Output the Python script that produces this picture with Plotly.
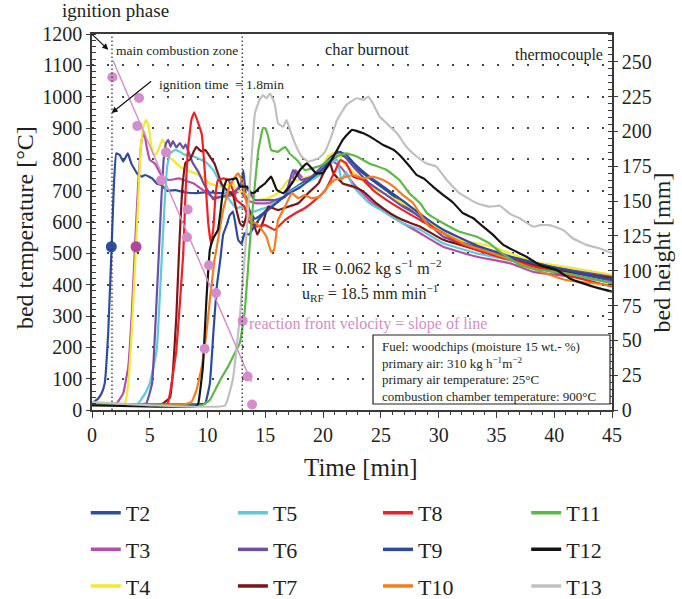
import plotly.graph_objects as go

FONT = "Liberation Serif"
TXT = "#231f20"

# ---------------- data (time [min], bed temperature [°C]) ----------------
T2_t = [0, 0.5, 0.85, 1.1, 1.4, 1.7, 1.9, 2.1, 2.4, 2.7, 3.1, 3.4, 3.9, 4.3, 4.6, 5.2, 5.6, 6.0, 6.5, 7.2, 8.0, 9.0,
        10.0, 11.0, 12.0, 12.6, 12.9, 13.1, 13.3, 13.6, 14.1, 14.7, 15.3, 16.1, 17, 18, 19, 20, 20.8, 21.5, 22.2,
        22.6, 24, 25.5, 27, 28.4, 30.4, 32, 33.3, 35, 36.2, 38.2, 41, 43, 45]
T2_v = [22, 35, 55, 85, 245, 521, 723, 819, 814, 793, 819, 787, 755, 745, 750, 739, 723, 718, 700, 702, 695, 692,
        695, 692, 695, 700, 720, 765, 690, 640, 610, 625, 645, 665, 695, 720, 745, 770, 800, 815, 800,
        780, 740, 700, 655, 615, 565, 535, 520, 495, 485, 465, 440, 425, 410]

T3_t = [0, 1.5, 2.13, 2.7, 3.14, 3.43, 3.72, 4.0, 4.3, 4.5, 4.73, 5.0, 5.45, 5.9, 6.3, 6.75, 7.5, 7.9, 8.8, 9.6,
        10.5, 11.4, 12.2, 12.8, 13.4, 14.1, 15.25, 16.7, 17.3, 17.6, 18.4, 19.3, 20.2, 20.6, 21.5, 22.6, 24, 25.5,
        26.9, 28.4, 30.4, 33.3, 36.2, 38.2, 41, 45]
T3_v = [20, 18, 21, 53, 138, 298, 521, 723, 862, 888, 840, 798, 787, 755, 739, 734, 739, 734, 723, 702,
        678, 681, 686, 700, 670, 660, 660, 681, 730, 766, 734, 745, 777, 798, 777, 723, 670, 628,
        596, 564, 521, 489, 468, 441, 428, 410]

T4_t = [0, 2.2, 2.85, 3.14, 3.43, 3.72, 4.0, 4.2, 4.44, 4.67, 4.87, 5.1, 5.3, 5.5, 5.73, 5.94, 6.1, 6.35, 6.6, 7.0,
        7.6, 8.5, 9.3, 10.2, 11.1, 12.2, 12.5, 13.2, 14.1, 15.25, 16.1, 17, 17.85, 18.7, 19.6, 20.4, 20.8, 21.2,
        21.8, 22.6, 24, 25.5, 26.9, 28.4, 30.4, 31.8, 33.3, 34.7, 36.2, 38.2, 41, 45]
T4_v = [20, 18, 21, 85, 245, 457, 670, 830, 904, 926, 910, 851, 819, 815, 830, 851, 862, 846, 809, 798,
        777, 761, 750, 723, 713, 723, 702, 692, 670, 676, 692, 734, 734, 745, 755, 809, 819, 824,
        787, 761, 713, 686, 660, 628, 564, 543, 532, 521, 500, 473, 457, 431]

T5_t = [0, 3.5, 4.0, 4.6, 5.0, 5.6, 6.0, 6.3, 6.5, 6.75, 7.2, 7.6, 8.0, 8.8, 9.8, 10.5, 11.1, 11.9, 12.5, 13.0,
        13.5, 14.4, 15.25, 16.1, 17, 17.85, 19, 19.9, 20.7, 21.2, 21.6, 22.0, 22.6, 24, 25.5, 26.9, 28.4, 30.4,
        33.3, 36.2, 40, 45]
T5_v = [20, 18, 21, 53, 85, 191, 457, 670, 777, 819, 830, 824, 815, 809, 793, 766, 723, 670, 644, 649,
        628, 638, 649, 670, 692, 713, 734, 755, 787, 800, 734, 760, 713, 660, 628, 596, 575, 532,
        500, 479, 445, 405]

T6_t = [0, 4.0, 4.7, 5.2, 5.45, 5.73, 6.0, 6.2, 6.4, 6.6, 6.8, 7.0, 7.3, 7.6, 7.9, 8.1, 8.3, 8.7, 9.2, 9.7,
        10.2, 10.5, 11.1, 11.8, 12.5, 12.95, 13.5, 14.1, 15, 15.8, 16.7, 17.4, 18.1, 19, 19.9, 20.7, 21.5, 22.6,
        24, 25.5, 26.9, 28.4, 30.4, 33.3, 36.2, 40, 45]
T6_v = [20, 18, 21, 85, 245, 457, 670, 798, 851, 862, 840, 858, 838, 852, 835, 848, 830, 790, 760, 720,
        690, 672, 681, 686, 702, 723, 702, 670, 670, 670, 681, 766, 734, 745, 777, 809, 824, 777,
        723, 686, 649, 617, 553, 516, 489, 455, 425]

T7_t = [0, 6.0, 6.75, 7.0, 7.3, 7.55, 7.8, 8.1, 8.5, 8.8, 9.05, 9.3, 9.5, 9.8, 10.2, 10.6, 10.9, 11.2, 11.65,
        12.2, 12.5, 12.8, 13.1, 13.5, 13.8, 14.3, 14.8, 15.25, 16.1, 17, 17.85, 18.7, 19.6, 20.3, 20.6, 20.9,
        21.7, 22.6, 23.5, 24.6, 25.8, 26.9, 28.4, 30.4, 33.3, 36.2, 40, 45]
T7_v = [20, 18, 40, 120, 300, 521, 700, 790, 800, 825, 840, 830, 825, 830, 809, 787, 755, 723, 702,
        686, 638, 596, 585, 640, 620, 560, 600, 649, 638, 649, 660, 692, 723, 777, 787, 755,
        723, 713, 697, 660, 628, 606, 585, 543, 511, 479, 448, 421]

T8_t = [0, 6.5, 6.75, 7.3, 7.9, 8.1, 8.3, 8.6, 8.85, 9.2, 9.5, 9.8, 10.05, 10.3, 10.5, 10.7, 10.9, 11.4, 11.8,
        12.2, 12.5, 13.2, 13.6, 14.1, 15, 15.8, 16.7, 17.6, 18.4, 19.3, 20.2, 21.0, 21.5, 22, 22.6, 23.5, 24.3,
        25.5, 26.9, 28.4, 30.4, 32.1, 33.3, 34.7, 36.2, 40, 45]
T8_v = [20, 18, 53, 191, 500, 700, 830, 926, 950, 915, 880, 740, 600, 530, 580, 690, 734, 739, 734,
        702, 670, 649, 600, 585, 590, 575, 606, 628, 644, 670, 702, 760, 798, 787, 745, 734, 702,
        670, 638, 606, 564, 527, 511, 495, 479, 440, 394]

T9_t = [0, 9.2, 9.8, 10.2, 10.5, 10.8, 11.1, 11.35, 11.65, 11.9, 12.2, 12.45, 12.65, 12.95, 13.2, 13.6, 14.1, 14.7,
        15.3, 16.1, 17, 18, 19, 20, 21.2, 22, 22.6, 24, 25.5, 27, 28.4, 30.4, 33.3, 36.2, 40, 45]
T9_v = [20, 18, 21, 85, 245, 394, 479, 560, 590, 620, 633, 585, 543, 530, 564, 560, 590, 620,
        640, 665, 690, 710, 740, 770, 825, 815, 790, 745, 705, 665, 625, 575, 525, 490, 455, 415]

T10_t = [0, 8.0, 8.6, 9.05, 9.5, 9.9, 10.2, 10.6, 10.8, 11.35, 11.9, 12.4, 12.65, 12.95, 13.2, 13.5, 13.8, 14.2,
         14.7, 15.1, 15.5, 15.75, 16.1, 16.7, 17.3, 17.85, 18.4, 19.0, 19.7, 20.4, 21.0, 21.5, 22.6, 23.5, 24.3,
         25.2, 26.1, 26.9, 27.8, 28.4, 29.2, 30.4, 31.3, 32.1, 33.3, 34.7, 36.2, 38.2, 41, 45]
T10_v = [20, 18, 25, 64, 138, 245, 351, 479, 520, 638, 713, 745, 755, 734, 690, 640, 600, 596,
         575, 553, 505, 510, 606, 649, 692, 676, 686, 676, 681, 713, 735, 739, 750, 739, 745,
         734, 713, 686, 660, 625, 585, 564, 548, 532, 516, 500, 479, 450, 415, 398]

T11_t = [0, 9.5, 10.2, 11.1, 11.8, 12.2, 12.8, 13.2, 13.5, 13.8, 14.1, 14.4, 14.8, 15.0, 15.25, 15.5, 16.1, 16.7,
         17.1, 17.85, 18.4, 19.0, 19.9, 20.7, 21.5, 22.0, 22.9, 24.0, 25.5, 26.6, 27.5, 28.4, 29, 30.4, 31.8,
         33.3, 34.4, 35.3, 37, 38.75, 41, 43.1, 45]
T11_v = [20, 15, 32, 96, 140, 170, 215, 309, 450, 600, 720, 830, 900, 899, 872, 830, 824, 840,
         819, 793, 766, 771, 782, 803, 814, 819, 809, 787, 766, 734, 690, 660, 628, 596, 569,
         553, 532, 505, 463, 447, 436, 420, 405]

T12_t = [0, 9.0, 9.2, 9.6, 9.9, 10.2, 10.5, 10.9, 11.1, 11.35, 11.65, 12.2, 12.5, 12.8, 13.4, 13.8, 14.1, 14.5,
         14.97, 15.5, 16.0, 16.55, 17.3, 18.0, 18.6, 19.4, 20.0, 20.9, 21.7, 22.5, 23.5, 24.3, 25.2, 26.1, 26.9,
         27.5, 28.1, 28.7, 29.5, 30.4, 31.3, 32.1, 33.0, 33.85, 34.7, 35.6, 36.4, 37.6, 38.75, 40.2, 41.35,
         42.5, 43.9, 45]
T12_v = [15, 12, 21, 138, 351, 511, 548, 575, 628, 702, 734, 737, 740, 713, 713, 692, 695, 710,
         723, 745, 702, 692, 723, 766, 787, 755, 757, 809, 862, 894, 883, 867, 846, 830, 803,
         777, 750, 739, 713, 686, 660, 628, 612, 585, 559, 527, 511, 489, 463, 447, 420,
         404, 388, 378]

T13_t = [0, 5, 11.5, 12.2, 12.8, 13.4, 13.8, 14.1, 14.5, 14.8, 15.1, 15.4, 15.8, 16.1, 16.55, 16.84, 17.13, 17.56,
         18.14, 18.7, 19.6, 20.16, 20.6, 21.2, 22.0, 22.9, 23.5, 23.9, 24.3, 24.9, 25.5, 26.4, 27.2, 28.1, 28.95,
         29.8, 30.7, 31.8, 33.3, 34.4, 35.3, 36.2, 37, 38.2, 38.75, 39.6, 40.8, 41.6, 42.8, 43.9, 45]
T13_v = [25, 15, 14, 100, 300, 580, 800, 947, 990, 1005, 995, 1010, 979, 915, 904, 925, 894, 851,
         809, 793, 803, 824, 862, 925, 973, 995, 990, 1000, 979, 936, 915, 883, 840, 809, 787,
         777, 734, 692, 660, 649, 652, 625, 612, 585, 590, 590, 574, 548, 527, 516, 500]

names = ["T2", "T3", "T4", "T5", "T6", "T7", "T8", "T9", "T10", "T11", "T12", "T13"]
colors = ["#2f4d9e", "#b44ea9", "#f1e92c", "#5ccad9", "#6a4fa7", "#7b1518",
          "#ee2125", "#2c4aa0", "#f47d20", "#5cb947", "#141414", "#c0c0c0"]
series_t = [T2_t, T3_t, T4_t, T5_t, T6_t, T7_t, T8_t, T9_t, T10_t, T11_t, T12_t, T13_t]
series_v = [T2_v, T3_v, T4_v, T5_v, T6_v, T7_v, T8_v, T9_v, T10_v, T11_v, T12_v, T13_v]

# reaction front: ignition time [min] vs thermocouple height [mm]
front_t = [1.76, 4.07, 3.92, 6.40, 5.97, 8.28, 8.22, 10.12, 10.73, 13.04, 9.75, 13.47, 13.85]
front_h = [239, 224, 204, 185, 165, 144, 124, 104, 84, 64, 44, 24, 4]
front_line_t = [1.82, 13.8]
front_line_h = [251, 20]

# ignition markers (T2, T3 at ignition temperature)
ign_t = [1.67, 3.81]
ign_v = [521, 521]
ign_colors = ["#2f4d9e", "#b0479f"]

phase_t = [1.73, 13.0]   # ignition time and end of main combustion zone

x_ticks = list(range(0, 46, 5))
y_ticks = list(range(0, 1201, 100))
y2_ticks = list(range(0, 251, 25))

PINK = "#d48ccb"

fig = go.Figure()

for n, c, tt, vv in zip(names, colors, series_t, series_v):
    fig.add_trace(go.Scatter(x=tt, y=vv, mode="lines", name=n, showlegend=False,
                             line=dict(color=c, width=2.2, shape="spline", smoothing=0.3)))

fig.add_trace(go.Scatter(x=ign_t, y=ign_v, mode="markers", showlegend=False,
                         marker=dict(color=ign_colors, size=11)))

fig.add_trace(go.Scatter(x=front_line_t, y=front_line_h, yaxis="y2", mode="lines", showlegend=False,
                         line=dict(color=PINK, width=1.4)))
fig.add_trace(go.Scatter(x=front_t, y=front_h, yaxis="y2", mode="markers", showlegend=False,
                         marker=dict(color=PINK, size=10)))

# legend entries in 4 columns
legend_ids = ["legend", "legend", "legend", "legend2", "legend2", "legend2",
              "legend3", "legend3", "legend3", "legend4", "legend4", "legend4"]
for n, c, lid in zip(names, colors, legend_ids):
    fig.add_trace(go.Scatter(x=[None], y=[None], mode="lines", name=n, legend=lid, legendgroup=n,
                             line=dict(color=c, width=3.5)))

tickfont = dict(family=FONT, size=20, color=TXT)
AX = "#3a3a3a"

fig.update_layout(
    width=682, height=599,
    margin=dict(l=92, r=70, t=34, b=189, autoexpand=False),
    paper_bgcolor="white", plot_bgcolor="white",
    font=dict(family=FONT, color=TXT),
    xaxis=dict(range=[0, 45], tickvals=x_ticks, ticks="outside", ticklen=6, tickwidth=1.2, tickcolor=AX,
               showline=True, linecolor=AX, linewidth=1.5, mirror=True, showgrid=False, zeroline=False,
               tickfont=tickfont,
               minor=dict(dtick=1, ticks="outside", ticklen=3, tickcolor=AX, showgrid=False)),
    yaxis=dict(range=[0, 1200], tickvals=y_ticks, ticks="outside", ticklen=4, tickwidth=1.2, tickcolor=AX,
               showline=True, linecolor=AX, linewidth=1.5, zeroline=False, tickfont=tickfont,
               showgrid=True, gridcolor="#444444", gridwidth=1.5, griddash="1.5px,13.5px",
               minor=dict(dtick=20, ticks="inside", ticklen=4, tickcolor=AX, showgrid=False)),
    yaxis2=dict(range=[0, 270], tickvals=y2_ticks, overlaying="y", side="right", ticks="outside", ticklen=4,
                tickwidth=1.2, tickcolor=AX, showline=True, linecolor=AX, linewidth=1.5, zeroline=False,
                showgrid=False, tickfont=tickfont,
                minor=dict(dtick=5, ticks="inside", ticklen=4, tickcolor=AX, showgrid=False)),
)

leg_common = dict(xanchor="left", yanchor="top", font=dict(family=FONT, size=22, color=TXT),
                  bgcolor="rgba(0,0,0,0)", tracegroupgap=5, traceorder="grouped", itemwidth=30,
                  orientation="v")
leg_x = [-0.012, 0.271, 0.55, 0.835]
leg_y = -0.218
fig.update_layout(
    legend=dict(x=leg_x[0], y=leg_y, **leg_common),
    legend2=dict(x=leg_x[1], y=leg_y, **leg_common),
    legend3=dict(x=leg_x[2], y=leg_y, **leg_common),
    legend4=dict(x=leg_x[3], y=leg_y, **leg_common),
)

# phase boundary lines
for pt in phase_t:
    fig.add_shape(type="line", xref="x", yref="paper", x0=pt, x1=pt, y0=0, y1=1,
                  line=dict(color="#333333", width=1.3, dash="1.5px,2.5px"), layer="above")

# info box
fig.add_shape(type="rect", xref="paper", yref="paper", x0=0.5404, x1=0.9962, y0=0.016, y1=0.1995,
              line=dict(color="#222222", width=1.2), fillcolor="white", layer="above")

def ann(text, x, y, size, xanchor="left", color=TXT, angle=0):
    fig.add_annotation(text=text, x=x, y=y, xref="paper", yref="paper", showarrow=False,
                       xanchor=xanchor, yanchor="middle", textangle=angle,
                       font=dict(family=FONT, size=size, color=color))

ann("ignition phase", 0.046, 1.063, 19, "center")
ann("main combustion zone", 0.1625, 0.957, 13.5, "center")
ann("char burnout", 0.5288, 0.960, 16.5, "center")
ann("thermocouple", 0.9865, 0.944, 16, "right")
ann("ignition time&nbsp; = 1.8min", 0.125, 0.867, 13.5, "left")
ann("IR = 0.062 kg s<sup>−1</sup> m<sup>−2</sup>", 0.40, 0.378, 16, "left")
ann("u<sub>RF</sub> = 18.5 mm min<sup>−1</sup>", 0.40, 0.311, 16, "left")
ann("reaction front velocity = slope of line", 0.298, 0.2287, 16, "left", PINK)
ann("Fuel: woodchips (moisture 15 wt.- %)", 0.5538, 0.170, 13, "left")
ann("primary air: 310 kg h<sup>−1</sup>m<sup>−2</sup>", 0.5538, 0.125, 13, "left")
ann("primary air temperature: 25°C", 0.5538, 0.0798, 13, "left")
ann("combustion chamber temperature: 900°C", 0.5538, 0.0346, 13, "left")
ann("bed temperature [°C]", -0.1288, 0.484, 24, "center", TXT, -90)
ann("bed height [mm]", 1.097, 0.42, 24, "center", TXT, -90)
ann("Time [min]", 0.517, -0.1516, 25, "center")

# arrows
fig.add_annotation(x=1.70, y=948, xref="x", yref="y", text="", showarrow=True, ax=41, ay=-33,
                   arrowhead=2, arrowsize=1, arrowwidth=1.2, arrowcolor="#111111")
fig.add_annotation(x=1.41, y=1150, xref="x", yref="y", text="", showarrow=True, ax=-18, ay=-17,
                   arrowhead=2, arrowsize=1, arrowwidth=1.2, arrowcolor="#111111")

fig.write_html("out.html", config={"displayModeBar": False},
               post_script="document.body.style.margin='0';document.body.style.overflow='hidden';")
